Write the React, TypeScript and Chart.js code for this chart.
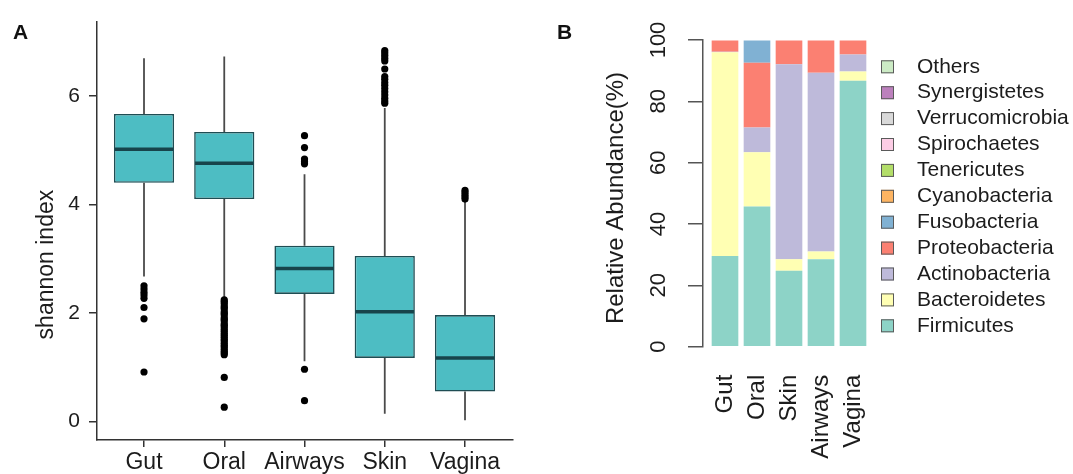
import React, { useEffect, useRef } from 'react';
import { Chart, registerables } from 'chart.js';

Chart.register(...registerables);

const FONT = "'Liberation Sans', Arial, Helvetica, sans-serif";

// ---------- Panel A: shannon index boxplots ----------
const categoriesA = ['Gut', 'Oral', 'Airways', 'Skin', 'Vagina'];
const yTicksA = [0, 2, 4, 6];
const whiskerLowA = [2.67, 2.29, 1.11, 0.14, 0.02];
const q1A = [4.4, 4.1, 2.35, 1.17, 0.55];
const medianA = [5.02, 4.76, 2.82, 2.02, 1.17];
const q3A = [5.67, 5.34, 3.24, 3.05, 1.96];
const whiskerHighA = [6.7, 6.73, 4.56, 5.78, 4.08];
const outliersGut = [2.5, 2.44, 2.38, 2.33, 2.27, 2.1, 1.89, 0.91];
const outliersOral = [2.24, 2.21, 2.18, 2.13, 2.1, 2.07, 2.02, 1.99, 1.96, 1.91, 1.88, 1.85, 1.8, 1.77, 1.74, 1.7, 1.66, 1.62, 1.59, 1.55, 1.51, 1.48, 1.44, 1.4, 1.37, 1.33, 1.29, 1.26, 1.23, 0.81, 0.26];
const outliersAirways = [5.27, 5.05, 4.84, 4.79, 4.75, 0.96, 0.38];
const outliersSkin = [6.84, 6.8, 6.75, 6.7, 6.65, 6.5, 6.36, 6.31, 6.25, 6.2, 6.14, 6.08, 6.02, 5.96, 5.91, 5.87];
const outliersVagina = [4.26, 4.22, 4.18, 4.14, 4.1];
const outliersA = [outliersGut, outliersOral, outliersAirways, outliersSkin, outliersVagina];

// ---------- Panel B: relative abundance stacked bars ----------
const categoriesB = ['Gut', 'Oral', 'Skin', 'Airways', 'Vagina'];
const yTicksB = [0, 20, 40, 60, 80, 100];
const firmicutes = [29.6, 45.7, 24.8, 28.5, 86.7];
const bacteroidetes = [66.4, 17.7, 3.7, 2.5, 3.0];
const actinobacteria = [0.2, 8.1, 63.6, 58.3, 5.6];
const proteobacteria = [3.6, 21.1, 7.7, 10.5, 4.5];
const fusobacteria = [0, 7.2, 0, 0, 0];
const cyanobacteria = [0, 0, 0, 0, 0];
const tenericutes = [0, 0, 0, 0, 0];
const spirochaetes = [0, 0, 0, 0, 0];
const verrucomicrobia = [0, 0, 0, 0, 0];
const synergistetes = [0, 0, 0, 0, 0];
const others = [0, 0, 0, 0, 0];
const phylaB = ['Firmicutes', 'Bacteroidetes', 'Actinobacteria', 'Proteobacteria', 'Fusobacteria', 'Cyanobacteria', 'Tenericutes', 'Spirochaetes', 'Verrucomicrobia', 'Synergistetes', 'Others'];
const seriesB = [firmicutes, bacteroidetes, actinobacteria, proteobacteria, fusobacteria, cyanobacteria, tenericutes, spirochaetes, verrucomicrobia, synergistetes, others];
const colorsB = ['#8DD3C7', '#FFFFB3', '#BEBADA', '#FB8072', '#80B1D3', '#FDB462', '#B3DE69', '#FCCDE5', '#D9D9D9', '#BC80BD', '#CCEBC5'];

const TEXT = '#1c1c1c';

function PanelA() {
  const ref = useRef<HTMLCanvasElement>(null);
  useEffect(() => {
    const canvas = ref.current;
    if (!canvas) return;
    const whiskerData: any[] = [];
    categoriesA.forEach((_, i) => {
      const x = i + 1;
      whiskerData.push({ x, y: whiskerHighA[i] }, { x, y: q3A[i] }, { x, y: null }, { x, y: q1A[i] }, { x, y: whiskerLowA[i] }, { x, y: null });
    });
    const outlierData = outliersA.flatMap((arr, i) => arr.map((v) => ({ x: i + 1, y: v })));
    const textPlugin = {
      id: 'textA',
      afterDraw(chart: any) {
        const c = chart.ctx;
        const area = chart.chartArea;
        c.save();
        c.fillStyle = '#111';
        c.font = `bold 21px ${FONT}`;
        c.textAlign = 'left';
        c.textBaseline = 'alphabetic';
        c.fillText('A', 13, 38.5);
        c.translate(47, area.top + 243);
        c.rotate(-Math.PI / 2);
        c.font = `23px ${FONT}`;
        c.textAlign = 'center';
        c.textBaseline = 'middle';
        c.fillStyle = TEXT;
        c.fillText('shannon index', 0, 0);
        c.restore();
      },
    };
    const chart = new Chart(canvas, {
      type: 'bar',
      data: {
        datasets: [
          {
            type: 'scatter',
            label: 'median',
            data: medianA.map((v, i) => ({ x: i + 1, y: v })),
            pointStyle: 'line',
            pointRadius: 29.2,
            pointBorderWidth: 3.5,
            pointBorderColor: '#17444b',
            order: 0,
          } as any,
          {
            type: 'scatter',
            label: 'outliers',
            data: outlierData,
            pointRadius: 3.6,
            pointBackgroundColor: '#000',
            pointBorderWidth: 0,
            order: 1,
          } as any,
          {
            type: 'line',
            label: 'whiskers',
            data: whiskerData,
            borderColor: '#4a4a4a',
            borderWidth: 1.8,
            pointRadius: 0,
            spanGaps: false,
            fill: false,
            order: 2,
          } as any,
          {
            type: 'bar',
            label: 'box',
            data: q1A.map((v, i) => ({ x: i + 1, y: [v, q3A[i]] })),
            backgroundColor: '#4dbdc3',
            borderColor: '#1f4d53',
            borderWidth: 1.6,
            borderSkipped: false,
            barPercentage: 0.75,
            categoryPercentage: 1,
            order: 3,
          } as any,
        ],
      },
      options: {
        responsive: false,
        animation: false,
        events: [],
        layout: { autoPadding: false, padding: { top: 15, right: 27, left: 0, bottom: 0 } },
        plugins: { legend: { display: false }, tooltip: { enabled: false } },
        scales: {
          x: {
            type: 'linear',
            offset: false,
            min: 0.4143,
            max: 5.598,
            afterBuildTicks: (s: any) => {
              s.ticks = categoriesA.map((_, i) => ({ value: i + 1 }));
            },
            afterFit: (s: any) => {
              s.height = 34;
            },
            ticks: {
              autoSkip: false,
              maxRotation: 0,
              minRotation: 0,
              padding: 2,
              color: TEXT,
              font: { size: 23, family: FONT },
              callback: (v: any) => categoriesA[Math.round(Number(v)) - 1] ?? '',
            },
            grid: { display: true, offset: false, drawOnChartArea: false, drawTicks: true, tickLength: 7, color: '#333', lineWidth: 1.5 },
            border: { display: true, color: '#333', width: 1.5 },
          },
          y: {
            type: 'linear',
            min: -0.345,
            max: 7.375,
            afterBuildTicks: (s: any) => {
              s.ticks = yTicksA.map((v) => ({ value: v }));
            },
            afterFit: (s: any) => {
              s.width = 97;
            },
            ticks: {
              padding: 9,
              color: TEXT,
              font: { size: 21, family: FONT },
              callback: (v: any) => String(v),
            },
            grid: { display: true, drawOnChartArea: false, drawTicks: true, tickLength: 8, color: '#333', lineWidth: 1.5 },
            border: { display: true, color: '#333', width: 1.5 },
          },
        },
      } as any,
      plugins: [textPlugin],
    });
    return () => chart.destroy();
  }, []);
  return <canvas ref={ref} width={540} height={474} style={{ position: 'absolute', left: 0, top: 0 }} />;
}

function PanelB() {
  const ref = useRef<HTMLCanvasElement>(null);
  useEffect(() => {
    const canvas = ref.current;
    if (!canvas) return;
    const textPlugin = {
      id: 'textB',
      afterDraw(chart: any) {
        const c = chart.ctx;
        const area = chart.chartArea;
        c.save();
        c.fillStyle = '#111';
        c.font = `bold 21px ${FONT}`;
        c.textAlign = 'left';
        c.textBaseline = 'alphabetic';
        c.fillText('B', 17, 39);
        c.save();
        c.translate(76, area.top + 158);
        c.rotate(-Math.PI / 2);
        c.font = `24px ${FONT}`;
        c.textAlign = 'center';
        c.textBaseline = 'middle';
        c.fillStyle = TEXT;
        c.fillText('Relative Abundance(%)', 0, 0);
        c.restore();
        // legend (reverse stacking order, like the reference)
        const boxX = area.right + 6;
        const textX = area.right + 42;
        const firstY = area.top + 26.8;
        const step = 25.9;
        const order = phylaB.map((name, k) => ({ name, color: colorsB[k] })).reverse();
        c.font = `21px ${FONT}`;
        c.textBaseline = 'middle';
        c.textAlign = 'left';
        order.forEach((item, i) => {
          const cy = firstY + i * step;
          c.fillStyle = item.color;
          c.fillRect(boxX, cy - 6.5, 13, 13);
          c.strokeStyle = '#5a5a5a';
          c.lineWidth = 1;
          c.strokeRect(boxX + 0.5, cy - 6, 12, 12);
          c.fillStyle = TEXT;
          c.fillText(item.name, textX, cy);
        });
        c.restore();
      },
    };
    const chart = new Chart(canvas, {
      type: 'bar',
      data: {
        datasets: phylaB.map((name, k) => ({
          label: name,
          data: seriesB[k].map((v, i) => ({ x: i + 1, y: v })),
          backgroundColor: colorsB[k],
          borderWidth: 0,
          barPercentage: 0.833,
          categoryPercentage: 1,
          stack: 'all',
        })) as any,
      },
      options: {
        responsive: false,
        animation: false,
        events: [],
        layout: { autoPadding: false, padding: { top: 40, right: 198, left: 0, bottom: 0 } },
        plugins: { legend: { display: false }, tooltip: { enabled: false } },
        scales: {
          x: {
            type: 'linear',
            offset: false,
            min: 0.3125,
            max: 5.6875,
            stacked: true,
            afterBuildTicks: (s: any) => {
              s.ticks = categoriesB.map((_, i) => ({ value: i + 1 }));
            },
            afterFit: (s: any) => {
              s.height = 127.3;
            },
            ticks: {
              autoSkip: false,
              minRotation: 90,
              maxRotation: 90,
              padding: 28,
              color: TEXT,
              font: { size: 24, family: FONT },
              callback: (v: any) => categoriesB[Math.round(Number(v)) - 1] ?? '',
            },
            grid: { display: false, offset: false, drawTicks: false },
            border: { display: false },
          },
          y: {
            type: 'linear',
            min: 0,
            max: 100,
            stacked: true,
            afterBuildTicks: (s: any) => {
              s.ticks = yTicksB.map((v) => ({ value: v }));
            },
            afterFit: (s: any) => {
              s.width = 163;
            },
            ticks: {
              minRotation: 90,
              maxRotation: 90,
              crossAlign: 'center',
              padding: 11,
              color: TEXT,
              font: { size: 22, family: FONT },
              callback: (v: any) => String(v),
            },
            grid: { display: true, drawOnChartArea: false, drawTicks: true, tickLength: 15, color: '#555', lineWidth: 1.5 },
            border: { display: true, color: '#555', width: 1.5 },
          },
        },
      } as any,
      plugins: [textPlugin],
    });
    return () => chart.destroy();
  }, []);
  return <canvas ref={ref} width={533} height={474} style={{ position: 'absolute', left: 540, top: 0 }} />;
}

export default function App() {
  return (
    <div style={{ position: 'absolute', left: 0, top: 0, width: 1073, height: 474, background: '#fff', overflow: 'hidden' }}>
      <PanelA />
      <PanelB />
    </div>
  );
}
